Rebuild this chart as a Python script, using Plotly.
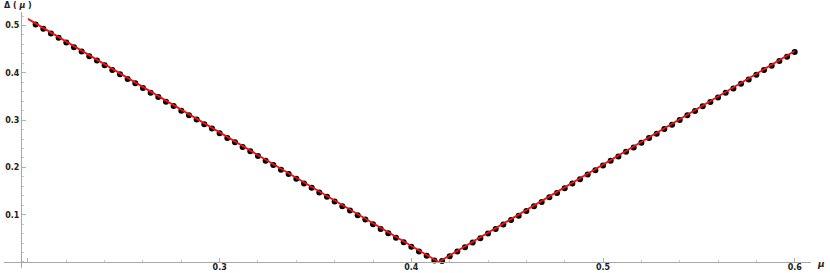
import plotly.graph_objects as go

# sampled points (black dots)
mu_pts = [0.204, 0.208, 0.212, 0.216, 0.220, 0.224, 0.228, 0.232, 0.236, 0.240,
          0.244, 0.248, 0.252, 0.256, 0.260, 0.264, 0.268, 0.272, 0.276, 0.280,
          0.284, 0.288, 0.292, 0.296, 0.300, 0.304, 0.308, 0.312, 0.316, 0.320,
          0.324, 0.328, 0.332, 0.336, 0.340, 0.344, 0.348, 0.352, 0.356, 0.360,
          0.364, 0.368, 0.372, 0.376, 0.380, 0.384, 0.388, 0.392, 0.396, 0.400,
          0.404, 0.408, 0.412,
          0.416, 0.420, 0.424, 0.428, 0.432, 0.436, 0.440, 0.444, 0.448, 0.452,
          0.456, 0.460, 0.464, 0.468, 0.472, 0.476, 0.480, 0.484, 0.488, 0.492,
          0.496, 0.500, 0.504, 0.508, 0.512, 0.516, 0.520, 0.524, 0.528, 0.532,
          0.536, 0.540, 0.544, 0.548, 0.552, 0.556, 0.560, 0.564, 0.568, 0.572,
          0.576, 0.580, 0.584, 0.588, 0.592, 0.596, 0.600]
delta_pts = [0.502, 0.493, 0.483, 0.474, 0.464, 0.454, 0.445, 0.435, 0.426, 0.416,
             0.406, 0.397, 0.387, 0.378, 0.368, 0.358, 0.349, 0.339, 0.330, 0.320,
             0.310, 0.301, 0.291, 0.282, 0.272, 0.262, 0.253, 0.243, 0.234, 0.224,
             0.214, 0.205, 0.195, 0.186, 0.176, 0.166, 0.157, 0.147, 0.138, 0.128,
             0.118, 0.109, 0.099, 0.090, 0.080, 0.070, 0.061, 0.051, 0.042, 0.032,
             0.022, 0.013, 0.003,
             0.002, 0.012, 0.022, 0.031, 0.041, 0.050, 0.060, 0.070, 0.079, 0.089,
             0.098, 0.108, 0.118, 0.127, 0.137, 0.146, 0.156, 0.166, 0.175, 0.185,
             0.194, 0.204, 0.214, 0.223, 0.233, 0.242, 0.252, 0.262, 0.271, 0.281,
             0.290, 0.300, 0.310, 0.319, 0.329, 0.338, 0.348, 0.358, 0.367, 0.377,
             0.386, 0.396, 0.406, 0.415, 0.425, 0.434, 0.444]

# fitted curve (red line)
mu_line = [0.200, 0.4142, 0.600]
delta_line = [0.514, 0.000, 0.446]

x_tickvals = [0.2, 0.3, 0.4, 0.5, 0.6]
x_ticktext = ["", "0.3", "0.4", "0.5", "0.6"]
y_tickvals = [0.1, 0.2, 0.3, 0.4, 0.5]
y_ticktext = ["0.1", "0.2", "0.3", "0.4", "0.5"]

W, H = 830, 273
ML, MR, MT, MB = 4, 19, 12, 5
pw = W - ML - MR
ph = H - MT - MB

fig = go.Figure()
fig.add_trace(go.Scatter(x=mu_pts, y=delta_pts, mode="markers",
                         marker=dict(color="black", size=6, line=dict(width=0)),
                         showlegend=False, hoverinfo="skip"))
fig.add_trace(go.Scatter(x=mu_line, y=delta_line, mode="lines",
                         line=dict(color="#ee1111", width=1.8),
                         showlegend=False, hoverinfo="skip"))

tickfont = dict(family="DejaVu Sans", size=8, color="#222", weight="bold")

fig.update_layout(
    width=W, height=H,
    margin=dict(l=ML, r=MR, t=MT, b=MB, pad=0),
    plot_bgcolor="white", paper_bgcolor="white",
    xaxis=dict(range=[0.1875, 0.6085], showgrid=False, zeroline=False,
               automargin=False,
               showline=True, linecolor="#a8a8a8", linewidth=1,
               anchor="free", position=(268 - 262) / ph,
               tickmode="array", tickvals=x_tickvals, ticktext=x_ticktext,
               ticks="inside", ticklen=4, tickcolor="#b0b0b0", tickwidth=1,
               ticklabelstandoff=-3,
               tickfont=tickfont,
               minor=dict(dtick=0.02, tick0=0.2, ticks="inside", ticklen=2,
                          tickcolor="#c8c8c8", showgrid=False)),
    yaxis=dict(range=[-0.0127, 0.5285], showgrid=False, zeroline=False,
               automargin=False,
               showline=True, linecolor="#a8a8a8", linewidth=1,
               anchor="free", position=(21 - ML) / pw,
               tickmode="array", tickvals=y_tickvals, ticktext=y_ticktext,
               ticks="inside", ticklen=4, tickcolor="#b0b0b0", tickwidth=1,
               tickfont=tickfont,
               minor=dict(dtick=0.02, tick0=0.0, ticks="inside", ticklen=2,
                          tickcolor="#c8c8c8", showgrid=False)),
    annotations=[
        dict(text="Δ ( <i>μ</i> )", xref="paper", yref="paper",
             x=(2 - ML) / pw, y=1 + (MT - 5) / ph, xanchor="left", yanchor="middle",
             showarrow=False,
             font=dict(family="DejaVu Sans", size=8, color="#222", weight="bold")),
        dict(text="<i>μ</i>", xref="paper", yref="paper",
             x=(815 - ML) / pw, y=(268 - 264) / ph, xanchor="left", yanchor="middle",
             showarrow=False,
             font=dict(family="DejaVu Sans", size=9, color="#222", weight="bold")),
    ],
)

fig.write_html("out.html",
               config={"displayModeBar": False},
               post_script="document.body.style.margin='0';document.body.style.overflow='hidden';")
